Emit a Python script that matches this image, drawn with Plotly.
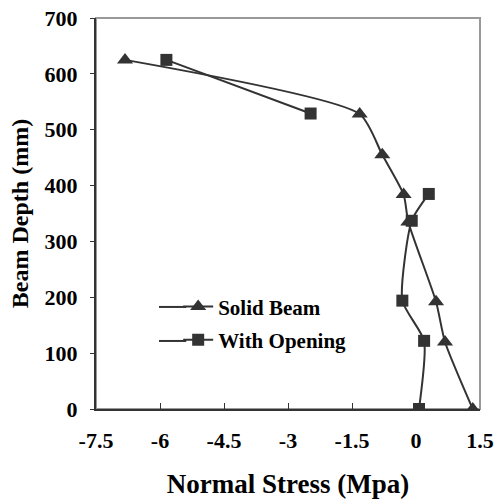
import plotly.graph_objects as go

solid_x = [-6.82, -1.32, -0.79, -0.29, -0.18, 0.47, 0.68, 1.33]
solid_y = [625, 528, 455, 384, 335, 192, 120, 0]
open_x = [-5.85, -2.47, None, 0.30, -0.10, -0.32, 0.19, 0.07]
open_y = [625, 529, None, 385, 337, 194, 122, 0]

x_ticks = [-7.5, -6, -4.5, -3, -1.5, 0, 1.5]
x_tick_text = ["-7.5", "-6", "-4.5", "-3", "-1.5", "0", "1.5"]
y_ticks = [0, 100, 200, 300, 400, 500, 600, 700]

col = "#333333"
font_family = "Liberation Serif, Times New Roman, serif"

fig = go.Figure()
fig.add_trace(go.Scatter(
    x=solid_x, y=solid_y, name="Solid Beam", mode="lines+markers",
    line=dict(color=col, width=2, shape="spline", smoothing=0.6),
    marker=dict(symbol="triangle-up", size=14, color=col),
    legendgroup="a",
))
fig.add_trace(go.Scatter(
    x=open_x, y=open_y, name="With Opening", mode="lines+markers",
    line=dict(color=col, width=2, shape="spline", smoothing=0.6),
    marker=dict(symbol="square", size=12, color=col),
    connectgaps=False, legendgroup="b",
))

fig.add_shape(type="rect", xref="paper", yref="paper", x0=0, y0=0, x1=1, y1=1,
              line=dict(color="#999999", width=2), layer="below")
# lengthen the legend sample lines to the left, as in the original
for yy in (0.261, 0.174):
    fig.add_shape(type="line", xref="paper", yref="paper", x0=0.164, x1=0.235,
                  y0=yy, y1=yy, line=dict(color=col, width=2))

fig.update_layout(
    width=497, height=499,
    margin=dict(l=96, r=17, t=18, b=90),
    paper_bgcolor="white", plot_bgcolor="white",
    font=dict(family=font_family, color="black"),
    showlegend=True,
    legend=dict(x=0.214, y=0.219, xanchor="left", yanchor="middle",
                bgcolor="rgba(0,0,0,0)",
                font=dict(size=21, family=font_family, weight="bold"),
                tracegroupgap=3),
    xaxis=dict(range=[-7.5, 1.5], tickvals=x_ticks, ticktext=x_tick_text,
               ticks="inside", ticklen=6, tickcolor=col, tickwidth=1,
               showline=True, linecolor=col, linewidth=2, showgrid=False, zeroline=False,
               automargin=False, ticklabeloverflow="allow",
               tickfont=dict(size=22, family=font_family, weight="bold"), ticklabelstandoff=11,
               title=dict(text="Normal Stress (Mpa)",
                          font=dict(size=27, family=font_family, weight="bold"), standoff=22)),
    yaxis=dict(range=[0, 700], tickvals=y_ticks,
               ticks="outside", ticklen=4, tickcolor=col, tickwidth=1,
               showline=True, linecolor=col, linewidth=2, showgrid=False, zeroline=False,
               automargin=False, ticklabeloverflow="allow",
               tickfont=dict(size=22, family=font_family, weight="bold"), ticklabelstandoff=8,
               title=dict(text="Beam Depth (mm)",
                          font=dict(size=24, family=font_family, weight="bold"), standoff=9)),
)

fig.write_html("out.html", config={"displayModeBar": False},
               post_script="document.body.style.margin='0';")
